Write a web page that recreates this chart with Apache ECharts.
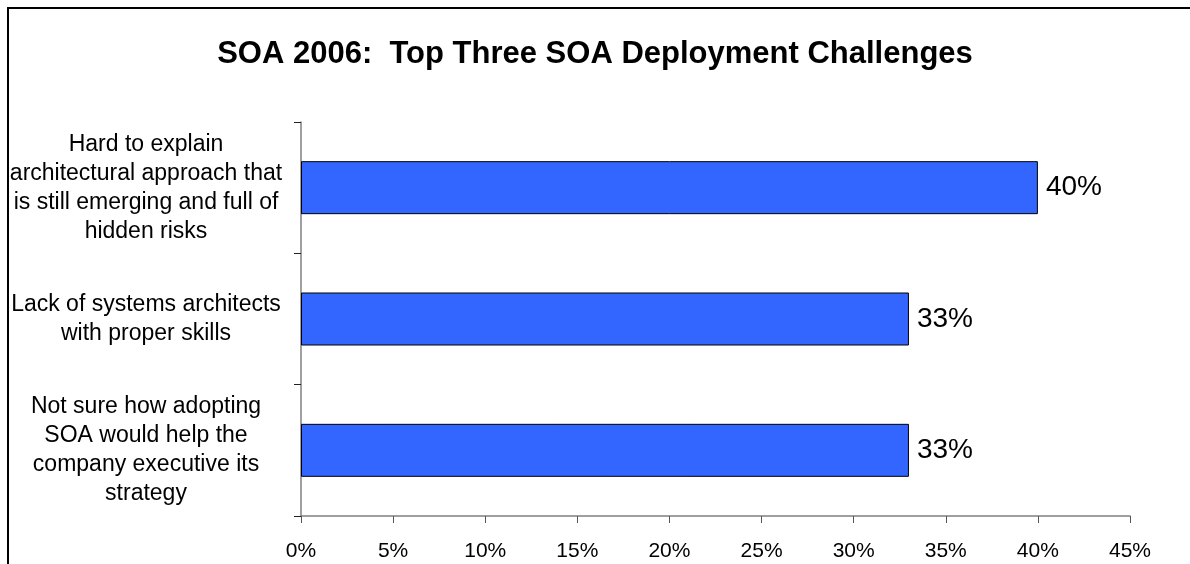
<!DOCTYPE html>
<html>
<head>
<meta charset="utf-8">
<script src="https://cdn.jsdelivr.net/npm/echarts@6/dist/echarts.min.js"></script>
<style>
html,body{margin:0;padding:0;background:#fff;}
#c{width:1190px;height:564px;}
</style>
</head>
<body>
<div id="c"></div>
<script>
var titleText = 'SOA 2006:  Top Three SOA Deployment Challenges';
var categories = [
  'Hard to explain\narchitectural approach that\nis still emerging and full of\nhidden risks',
  'Lack of systems architects\nwith proper skills',
  'Not sure how adopting\nSOA would help the\ncompany executive its\nstrategy'
];
var values = [40, 33, 33];
var axisMin = 0, axisMax = 45, axisStep = 5;

var chart = echarts.init(document.getElementById('c'), null, {renderer: 'canvas'});
var font = 'Liberation Sans, Arial, sans-serif';
chart.setOption({
  animation: false,
  backgroundColor: '#fff',
  title: {
    text: titleText,
    left: 'center',
    top: 34,
    textStyle: {fontFamily: font, fontWeight: 'bold', fontSize: 31, color: '#000'}
  },
  graphic: [{
    type: 'rect',
    shape: {x: 8, y: 8, width: 1200, height: 600},
    style: {fill: 'none', stroke: '#000', lineWidth: 2}
  }],
  grid: {left: 301, right: 60, top: 122, bottom: 48, containLabel: false},
  xAxis: {
    type: 'value',
    min: axisMin, max: axisMax, interval: axisStep,
    axisLine: {show: true, lineStyle: {color: '#808080', width: 1.5}},
    axisTick: {show: true, length: 7, lineStyle: {color: '#555'}},
    splitLine: {show: false},
    axisLabel: {formatter: '{value}%', fontFamily: font, fontSize: 21, color: '#000', margin: 25}
  },
  yAxis: {
    type: 'category',
    data: categories,
    inverse: true,
    axisLine: {show: true, lineStyle: {color: '#808080', width: 1.5}},
    axisTick: {show: true, length: 7, lineStyle: {color: '#222'}},
    axisLabel: {
      fontFamily: font, fontSize: 23, color: '#000',
      align: 'center', margin: 155, lineHeight: 29
    }
  },
  series: [{
    type: 'bar',
    data: values,
    barWidth: 53,
    itemStyle: {color: '#3366FF', borderColor: '#000', borderWidth: 1},
    label: {
      show: true, position: 'right', distance: 8,
      formatter: '{c}%', fontFamily: font, fontSize: 28, color: '#000'
    }
  }]
});
</script>
</body>
</html>
